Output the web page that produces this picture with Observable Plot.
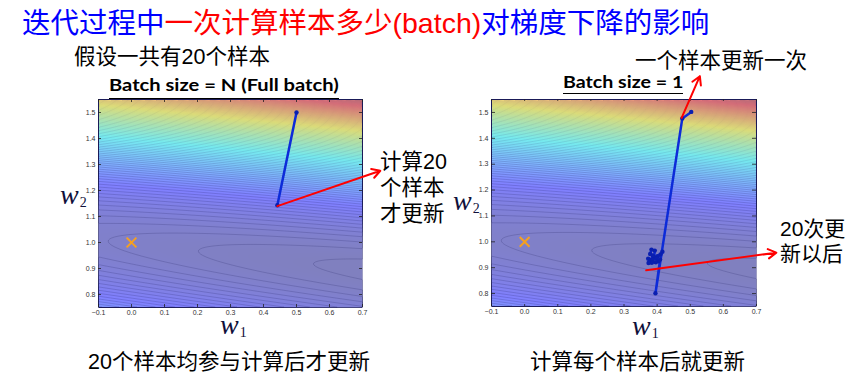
<!DOCTYPE html>
<html><head><meta charset="utf-8">
<script src="https://cdn.jsdelivr.net/npm/d3@7"></script>
<script src="https://cdn.jsdelivr.net/npm/@observablehq/plot@0.6"></script>
<style>
html,body{margin:0;padding:0;background:#fff;}
#page{position:relative;width:856px;height:381px;overflow:hidden;font-family:"Liberation Sans","Noto Sans CJK SC",sans-serif;}
.t{position:absolute;white-space:nowrap;line-height:1;color:#000;}
.cn{font-size:21.5px;}
.plot{position:absolute;top:0;}
.wl{position:absolute;font-family:"Liberation Serif","DejaVu Serif",serif;font-style:italic;color:#10103a;font-size:28px;line-height:1;white-space:nowrap;}
.wl span{font-style:normal;font-size:14px;position:relative;top:3px;margin-left:1px;}
.bt{position:absolute;font-family:Lato,"Open Sans",sans-serif;font-weight:bold;font-size:17.5px;line-height:1;border-bottom:1.5px solid #000;white-space:nowrap;transform-origin:0 0;color:#000;}
</style></head><body>
<div id="page">
  <div class="t" style="left:22px;top:8px;font-size:28.5px;line-height:1.1;"><span style="color:#0000ff">迭代过程中</span><span style="color:#ff0000">一次计算样本多少(batch)</span><span style="color:#0000ff">对梯度下降的影响</span></div>
  <div class="t cn" style="left:74px;top:47px;">假设一共有20个样本</div>
  <div class="t cn" style="left:635px;top:51px;">一个样本更新一次</div>
  <div class="bt" id="bt1" data-w="230" style="left:109px;top:75.5px;padding-bottom:4.5px;">Batch size = N (Full batch)</div>
  <div class="bt" id="bt2" data-w="120" style="left:563px;top:72.5px;padding-bottom:2.5px;">Batch size = 1</div>
  <div id="left" class="plot" style="left:0px;"></div>
  <div id="right" class="plot" style="left:440px;"></div>
  <div class="t cn" style="left:380px;top:152px;">计算20</div>
  <div class="t cn" style="left:380px;top:178px;">个样本</div>
  <div class="t cn" style="left:380px;top:204px;">才更新</div>
  <div class="t" style="left:780px;top:218px;font-size:21px;">20次更</div>
  <div class="t" style="left:780px;top:243px;font-size:21px;">新以后</div>
  <div class="wl" style="left:60px;top:181px;">w<span>2</span></div>
  <div class="wl" style="left:453px;top:187px;">w<span>2</span></div>
  <div class="wl" style="left:220px;top:311px;">w<span>1</span></div>
  <div class="wl" style="left:632px;top:312px;">w<span>1</span></div>
  <div class="t cn" style="left:88px;top:352px;">20个样本均参与计算后才更新</div>
  <div class="t cn" style="left:530px;top:352px;">计算每个样本后就更新</div>
</div>
<script>
// ---- data ----
const xTicks = [-0.1, 0.0, 0.1, 0.2, 0.3, 0.4, 0.5, 0.6, 0.7];
const yTicks = [0.8, 0.9, 1.0, 1.1, 1.2, 1.3, 1.4, 1.5];
const w1Domain = [-0.1, 0.7];
const w2Domain = [0.75, 1.55];

const minimumW1 = [0.0];
const minimumW2 = [1.0];

const fullBatchW1 = [0.500, 0.442];
const fullBatchW2 = [1.500, 1.143];

const sgdW1 = [0.503, 0.476, 0.395, 0.409, 0.416, 0.410, 0.401, 0.391, 0.393, 0.383, 0.379, 0.387, 0.381, 0.373, 0.377, 0.386, 0.398, 0.404, 0.396, 0.384, 0.374];
const sgdW2 = [1.502, 1.477, 0.801, 0.932, 0.962, 0.951, 0.944, 0.940, 0.966, 0.970, 0.953, 0.947, 0.930, 0.935, 0.922, 0.930, 0.936, 0.925, 0.921, 0.919, 0.918];

// annotation arrows (start -> end, in w1/w2 units)
const leftArrowX1 = [0.442], leftArrowY1 = [1.140], leftArrowX2 = [0.754], leftArrowY2 = [1.276];
const rightArrowX1 = [0.367, 0.474], rightArrowY1 = [0.890, 1.479], rightArrowX2 = [0.760, 0.529], rightArrowY2 = [0.958, 1.640];

// loss surface parameters (background contour field)
const valleyIntercept = 0.995, valleySlope = -0.14, curvW1 = 0.006, centerW1 = 1.5;
const colorDomain = [0.005, 0.455];
const contourStart = 0.0007, contourStep = 0.0047, contourEnd = 0.62;

// ---- helpers ----
const loss = (w1, w2) => (w2 - valleyIntercept - valleySlope * w1) ** 2 + curvW1 * (w1 - centerW1) ** 2;
const contourLevels = d3.range(contourStart, contourEnd, contourStep);
function jetPale(t) {
  const c = v => Math.max(0, Math.min(1, v));
  const r = c(1.5 - Math.abs(4 * t - 3)), g = c(1.5 - Math.abs(4 * t - 2)), b = c(1.5 - Math.abs(4 * t - 1));
  const m = v => Math.round(255 * (0.5 + 0.5 * v));
  return `rgb(${m(r)},${m(g)},${m(b)})`;
}
const zipPts = (a, b) => a.map((v, i) => ({w1: v, w2: b[i]}));
const zipArrows = (x1, y1, x2, y2) => x1.map((v, i) => ({x1: v, y1: y1[i], x2: x2[i], y2: y2[i]}));
const fmt = d3.format(".1f");

function panel({width, marginLeft, marginRight, marginBottom, path, arrows}) {
  return Plot.plot({
    width, height: 381, marginLeft, marginRight, marginTop: 99, marginBottom,
    x: {domain: w1Domain},
    y: {domain: w2Domain},
    color: {type: "linear", domain: colorDomain, interpolate: jetPale, clamp: true},
    style: {background: "transparent", overflow: "visible"},
    marks: [
      Plot.raster({x1: w1Domain[0], x2: w1Domain[1], y1: w2Domain[0], y2: w2Domain[1], fill: loss, pixelSize: 1}),
      Plot.contour({x1: w1Domain[0], x2: w1Domain[1], y1: w2Domain[0], y2: w2Domain[1], value: loss, thresholds: contourLevels, pixelSize: 1, stroke: "#1a1a5a", strokeOpacity: 0.3, strokeWidth: 0.65, fill: "none"}),
      Plot.axisX({ticks: xTicks, anchor: "bottom", tickSize: 0, tickPadding: 3, tickFormat: fmt, fontSize: 7, fill: "#333", label: null, fontFamily: "Liberation Sans"}),
      Plot.axisY({ticks: yTicks, anchor: "left", tickSize: 0, tickPadding: 3, tickFormat: fmt, fontSize: 7, fill: "#333", label: null, fontFamily: "Liberation Sans"}),
      Plot.ruleX(xTicks, {x: d => d, insetTop: 205, stroke: "#222", strokeWidth: 0.8}),
      Plot.ruleX(xTicks, {x: d => d, insetBottom: 205, stroke: "#222", strokeWidth: 0.8}),
      Plot.ruleY(yTicks, {y: d => d, insetRight: 261, stroke: "#222", strokeWidth: 0.8}),
      Plot.ruleY(yTicks, {y: d => d, insetLeft: 261, stroke: "#222", strokeWidth: 0.8}),
      Plot.dot(zipPts(minimumW1, minimumW2), {x: "w1", y: "w2", symbol: "times", r: 4.5, stroke: "#f5a020", strokeWidth: 2}),
      Plot.line(path, {x: "w1", y: "w2", stroke: "#0d2bd9", strokeWidth: 2.5}),
      Plot.dot(path, {x: "w1", y: "w2", r: 2.2, fill: "#0a1fb0", stroke: "none"}),
      Plot.arrow(arrows, {x1: "x1", y1: "y1", x2: "x2", y2: "y2", stroke: "#ff0000", strokeWidth: 2, headLength: 7})
    ]
  });
}

document.getElementById("left").append(panel({
  width: 400, marginLeft: 98, marginRight: 38, marginBottom: 74,
  path: zipPts(fullBatchW1, fullBatchW2),
  arrows: zipArrows(leftArrowX1, leftArrowY1, leftArrowX2, leftArrowY2)
}));
document.getElementById("right").append(panel({
  width: 416, marginLeft: 51, marginRight: 100, marginBottom: 75,
  path: zipPts(sgdW1, sgdW2),
  arrows: zipArrows(rightArrowX1, rightArrowY1, rightArrowX2, rightArrowY2)
}));

for (const id of ["bt1", "bt2"]) {
  const el = document.getElementById(id);
  const target = +el.dataset.w;
  el.style.transform = `scaleX(${target / el.offsetWidth})`;
}
</script>
</body></html>
